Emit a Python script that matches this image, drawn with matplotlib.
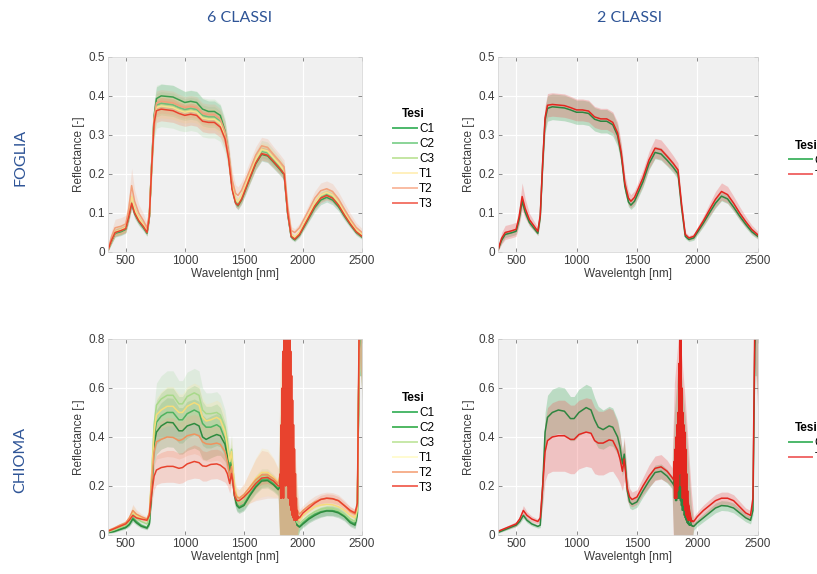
import numpy as np
import matplotlib
matplotlib.use("Agg")
import matplotlib.pyplot as plt
from matplotlib.lines import Line2D
from matplotlib.ticker import FuncFormatter

plt.rcParams['font.family'] = ['Liberation Sans', 'DejaVu Sans']

# ---------------- FOGLIA (leaf) ----------------
wl_leaf = [350, 380, 410, 460, 500, 525, 550, 575, 610, 650, 680, 700, 720, 740, 760,
           800, 900, 950, 1000, 1050, 1100, 1150, 1200, 1250, 1300, 1340, 1370, 1400,
           1430, 1450, 1480, 1550, 1600, 1650, 1700, 1750, 1800, 1840, 1870, 1900, 1930,
           1970, 2050, 2100, 2150, 2200, 2250, 2300, 2350, 2400, 2450, 2500]

leaf_c1 = [0.005, 0.028, 0.048, 0.052, 0.058, 0.088, 0.125, 0.098, 0.078, 0.062, 0.048, 0.09, 0.23, 0.35, 0.393,
           0.40, 0.397, 0.39, 0.383, 0.386, 0.383, 0.366, 0.36, 0.36, 0.35, 0.31, 0.25, 0.165,
           0.125, 0.118, 0.133, 0.188, 0.226, 0.25, 0.246, 0.23, 0.213, 0.198, 0.098, 0.038, 0.031,
           0.043, 0.087, 0.114, 0.133, 0.14, 0.133, 0.116, 0.092, 0.07, 0.05, 0.038]
leaf_c2 = [0.005, 0.03, 0.05, 0.054, 0.06, 0.092, 0.132, 0.104, 0.082, 0.066, 0.05, 0.092, 0.226, 0.34, 0.376,
           0.381, 0.377, 0.37, 0.365, 0.368, 0.365, 0.35, 0.346, 0.346, 0.335, 0.3, 0.245, 0.165,
           0.128, 0.123, 0.138, 0.194, 0.233, 0.258, 0.254, 0.237, 0.22, 0.204, 0.102, 0.041, 0.034,
           0.047, 0.092, 0.121, 0.141, 0.148, 0.141, 0.123, 0.097, 0.074, 0.053, 0.041]
leaf_c3 = [0.005, 0.031, 0.051, 0.056, 0.062, 0.095, 0.138, 0.108, 0.085, 0.068, 0.052, 0.094, 0.224, 0.336, 0.372,
           0.376, 0.372, 0.365, 0.36, 0.363, 0.36, 0.345, 0.342, 0.342, 0.331, 0.298, 0.245, 0.168,
           0.132, 0.127, 0.142, 0.197, 0.236, 0.261, 0.257, 0.24, 0.223, 0.207, 0.105, 0.043, 0.036,
           0.049, 0.095, 0.124, 0.144, 0.151, 0.144, 0.126, 0.1, 0.076, 0.055, 0.043]
leaf_t1 = [0.005, 0.032, 0.052, 0.057, 0.063, 0.097, 0.142, 0.11, 0.087, 0.07, 0.054, 0.095, 0.222, 0.334, 0.37,
           0.374, 0.37, 0.363, 0.358, 0.361, 0.358, 0.343, 0.34, 0.34, 0.329, 0.296, 0.244, 0.17,
           0.134, 0.129, 0.144, 0.199, 0.238, 0.263, 0.259, 0.242, 0.225, 0.209, 0.107, 0.045, 0.038,
           0.051, 0.097, 0.126, 0.146, 0.153, 0.146, 0.128, 0.102, 0.078, 0.057, 0.045]
leaf_t2 = [0.006, 0.04, 0.062, 0.066, 0.072, 0.11, 0.17, 0.13, 0.1, 0.08, 0.062, 0.1, 0.23, 0.345, 0.382,
           0.386, 0.382, 0.375, 0.37, 0.373, 0.37, 0.355, 0.352, 0.352, 0.34, 0.308, 0.258, 0.185,
           0.15, 0.145, 0.158, 0.21, 0.248, 0.272, 0.268, 0.25, 0.233, 0.218, 0.118, 0.055, 0.05,
           0.062, 0.108, 0.138, 0.157, 0.162, 0.155, 0.136, 0.11, 0.085, 0.063, 0.05]
leaf_t3 = [0.005, 0.03, 0.05, 0.055, 0.06, 0.09, 0.125, 0.10, 0.08, 0.065, 0.05, 0.09, 0.22, 0.33, 0.362,
           0.366, 0.362, 0.355, 0.35, 0.353, 0.35, 0.335, 0.332, 0.332, 0.32, 0.29, 0.24, 0.16,
           0.125, 0.12, 0.135, 0.19, 0.228, 0.252, 0.248, 0.232, 0.215, 0.2, 0.1, 0.04, 0.033,
           0.045, 0.09, 0.118, 0.138, 0.145, 0.138, 0.12, 0.095, 0.072, 0.052, 0.04]

leaf_sd = [0.003, 0.008, 0.01, 0.01, 0.01, 0.012, 0.015, 0.012, 0.01, 0.009, 0.008, 0.012, 0.025, 0.03, 0.03,
           0.03, 0.03, 0.029, 0.028, 0.028, 0.028, 0.027, 0.027, 0.027, 0.026, 0.025, 0.02, 0.015,
           0.01, 0.01, 0.011, 0.014, 0.016, 0.017, 0.017, 0.016, 0.015, 0.014, 0.01, 0.006, 0.005,
           0.006, 0.009, 0.011, 0.012, 0.012, 0.012, 0.011, 0.01, 0.008, 0.007, 0.006]
leaf_c3_sd = [0.003, 0.008, 0.01, 0.01, 0.01, 0.012, 0.015, 0.012, 0.01, 0.009, 0.008, 0.015, 0.04, 0.05, 0.055,
              0.055, 0.055, 0.054, 0.052, 0.052, 0.052, 0.05, 0.05, 0.05, 0.048, 0.045, 0.035, 0.022,
              0.013, 0.012, 0.014, 0.02, 0.023, 0.025, 0.025, 0.023, 0.021, 0.02, 0.013, 0.007, 0.006,
              0.007, 0.011, 0.013, 0.014, 0.014, 0.014, 0.013, 0.012, 0.01, 0.008, 0.007]
leaf_t2_sd = [0.004, 0.015, 0.022, 0.022, 0.022, 0.03, 0.045, 0.03, 0.022, 0.018, 0.012, 0.015, 0.025, 0.03, 0.03,
              0.03, 0.03, 0.029, 0.028, 0.028, 0.028, 0.027, 0.027, 0.027, 0.027, 0.027, 0.025, 0.025,
              0.022, 0.022, 0.022, 0.022, 0.022, 0.022, 0.022, 0.02, 0.019, 0.018, 0.014, 0.01, 0.01,
              0.011, 0.015, 0.018, 0.02, 0.02, 0.02, 0.018, 0.016, 0.014, 0.012, 0.01]

leaf2_c = [0.005, 0.03, 0.045, 0.049, 0.053, 0.083, 0.13, 0.102, 0.076, 0.06, 0.048, 0.09, 0.225, 0.338, 0.368,
           0.372, 0.369, 0.364, 0.358, 0.358, 0.355, 0.34, 0.335, 0.335, 0.326, 0.298, 0.248, 0.168,
           0.128, 0.12, 0.13, 0.18, 0.226, 0.255, 0.251, 0.235, 0.217, 0.2, 0.112, 0.04, 0.032,
           0.036, 0.074, 0.1, 0.125, 0.143, 0.136, 0.115, 0.092, 0.071, 0.052, 0.04]
leaf2_t = [0.005, 0.035, 0.05, 0.054, 0.058, 0.09, 0.142, 0.112, 0.083, 0.066, 0.053, 0.095, 0.23, 0.345, 0.376,
           0.378, 0.375, 0.37, 0.364, 0.364, 0.361, 0.346, 0.341, 0.341, 0.332, 0.305, 0.255, 0.176,
           0.138, 0.13, 0.14, 0.19, 0.236, 0.266, 0.262, 0.245, 0.227, 0.21, 0.12, 0.045, 0.036,
           0.04, 0.08, 0.108, 0.135, 0.155, 0.147, 0.125, 0.1, 0.078, 0.058, 0.044]
leaf2_c_sd = [0.003, 0.007, 0.008, 0.008, 0.008, 0.01, 0.012, 0.01, 0.008, 0.007, 0.006, 0.01, 0.025, 0.032, 0.033,
              0.033, 0.033, 0.032, 0.031, 0.031, 0.031, 0.03, 0.03, 0.03, 0.029, 0.027, 0.022, 0.016,
              0.012, 0.011, 0.012, 0.014, 0.015, 0.016, 0.016, 0.015, 0.014, 0.013, 0.009, 0.006, 0.005,
              0.006, 0.009, 0.011, 0.012, 0.012, 0.012, 0.011, 0.01, 0.009, 0.008, 0.007]
leaf2_t_sd = [0.003, 0.015, 0.018, 0.018, 0.018, 0.022, 0.035, 0.025, 0.016, 0.012, 0.01, 0.012, 0.025, 0.03, 0.03,
              0.03, 0.03, 0.029, 0.028, 0.028, 0.028, 0.027, 0.027, 0.027, 0.027, 0.027, 0.025, 0.022,
              0.018, 0.017, 0.017, 0.02, 0.022, 0.025, 0.025, 0.023, 0.02, 0.018, 0.012, 0.007, 0.006,
              0.007, 0.012, 0.016, 0.02, 0.022, 0.021, 0.018, 0.016, 0.013, 0.011, 0.009]

# ---------------- CHIOMA (canopy) ----------------
wl_canopy = [350, 400, 450, 500, 530, 560, 590, 630, 680, 700, 720, 740, 760, 800, 850,
             900, 950, 980, 1020, 1080, 1120, 1150, 1180, 1220, 1270, 1300, 1340, 1360, 1380, 1395,
             1405, 1420, 1440, 1460, 1500, 1550, 1600, 1650, 1700, 1750, 1790, 1810, 1850, 1900, 1950,
             1970, 2000, 2050, 2100, 2150, 2200, 2250, 2300, 2350, 2400, 2440, 2460, 2475, 2490, 2500]

canopy_c1 = [0.01, 0.015, 0.025, 0.033, 0.045, 0.07, 0.055, 0.04, 0.03, 0.05, 0.2, 0.4, 0.46, 0.485, 0.5,
             0.5, 0.47, 0.47, 0.495, 0.51, 0.5, 0.455, 0.44, 0.44, 0.45, 0.44, 0.39, 0.34, 0.27, 0.31,
             0.25, 0.17, 0.125, 0.115, 0.125, 0.165, 0.2, 0.225, 0.228, 0.21, 0.19, 0.2, 0.3, 0.15, 0.04,
             0.035, 0.05, 0.07, 0.085, 0.095, 0.1, 0.1, 0.095, 0.08, 0.055, 0.045, 0.09, 0.75, 0.95, 0.95]
canopy_c2 = [0.01, 0.014, 0.022, 0.03, 0.042, 0.065, 0.05, 0.036, 0.028, 0.045, 0.18, 0.37, 0.42, 0.445, 0.46,
             0.458, 0.425, 0.425, 0.445, 0.455, 0.445, 0.4, 0.39, 0.4, 0.41, 0.405, 0.37, 0.32, 0.25, 0.29,
             0.23, 0.16, 0.12, 0.11, 0.12, 0.16, 0.195, 0.22, 0.222, 0.205, 0.185, 0.2, 0.3, 0.15, 0.04,
             0.032, 0.045, 0.065, 0.08, 0.092, 0.098, 0.097, 0.09, 0.075, 0.05, 0.04, 0.085, 0.75, 0.95, 0.95]
canopy_c3 = [0.012, 0.02, 0.03, 0.04, 0.055, 0.085, 0.07, 0.055, 0.045, 0.07, 0.25, 0.45, 0.53, 0.555, 0.57,
             0.57, 0.535, 0.535, 0.565, 0.58, 0.57, 0.51, 0.495, 0.495, 0.5, 0.49, 0.44, 0.38, 0.3, 0.35,
             0.28, 0.19, 0.14, 0.13, 0.14, 0.18, 0.215, 0.24, 0.24, 0.22, 0.2, 0.22, 0.3, 0.15, 0.05,
             0.045, 0.06, 0.08, 0.095, 0.105, 0.11, 0.108, 0.1, 0.085, 0.065, 0.055, 0.1, 0.75, 0.95, 0.95]
canopy_t1 = [0.016, 0.025, 0.035, 0.045, 0.065, 0.095, 0.08, 0.068, 0.06, 0.09, 0.25, 0.42, 0.49, 0.51, 0.525,
             0.525, 0.5, 0.5, 0.525, 0.54, 0.53, 0.48, 0.465, 0.47, 0.48, 0.47, 0.42, 0.36, 0.3, 0.34,
             0.28, 0.2, 0.16, 0.15, 0.16, 0.195, 0.23, 0.255, 0.255, 0.235, 0.215, 0.25, 0.35, 0.2, 0.07,
             0.06, 0.08, 0.1, 0.115, 0.122, 0.125, 0.123, 0.115, 0.1, 0.08, 0.07, 0.11, 0.78, 0.95, 0.95]
canopy_t2 = [0.018, 0.028, 0.04, 0.05, 0.07, 0.1, 0.085, 0.075, 0.065, 0.09, 0.22, 0.34, 0.38, 0.39, 0.4,
             0.398, 0.385, 0.39, 0.405, 0.412, 0.405, 0.38, 0.372, 0.37, 0.375, 0.37, 0.34, 0.3, 0.24, 0.28,
             0.24, 0.18, 0.155, 0.15, 0.165, 0.195, 0.225, 0.245, 0.245, 0.23, 0.21, 0.25, 0.4, 0.25, 0.1,
             0.085, 0.1, 0.12, 0.135, 0.145, 0.15, 0.148, 0.14, 0.12, 0.095, 0.085, 0.12, 0.8, 0.95, 0.95]
canopy_t3 = [0.015, 0.025, 0.035, 0.045, 0.06, 0.08, 0.07, 0.065, 0.06, 0.08, 0.17, 0.24, 0.265, 0.275, 0.28,
             0.28, 0.272, 0.275, 0.29, 0.3, 0.295, 0.282, 0.28, 0.288, 0.29, 0.285, 0.27, 0.25, 0.21, 0.25,
             0.22, 0.16, 0.14, 0.14, 0.155, 0.18, 0.21, 0.232, 0.235, 0.22, 0.2, 0.2, 0.4, 0.2, 0.08,
             0.07, 0.09, 0.11, 0.13, 0.145, 0.15, 0.148, 0.14, 0.12, 0.1, 0.09, 0.13, 0.85, 0.95, 0.95]

canopy_green_sd = [0.003, 0.004, 0.005, 0.006, 0.008, 0.012, 0.01, 0.008, 0.007, 0.01, 0.05, 0.08, 0.09, 0.095, 0.1,
                   0.1, 0.095, 0.095, 0.1, 0.1, 0.1, 0.09, 0.085, 0.085, 0.085, 0.08, 0.07, 0.06, 0.05, 0.06,
                   0.05, 0.035, 0.025, 0.022, 0.022, 0.025, 0.028, 0.03, 0.03, 0.028, 0.026, 0.3, 0.45, 0.35, 0.06,
                   0.015, 0.015, 0.016, 0.018, 0.02, 0.02, 0.02, 0.02, 0.018, 0.016, 0.015, 0.02, 0.1, 0.3, 0.4]
canopy_warm_sd = [0.004, 0.005, 0.007, 0.008, 0.012, 0.025, 0.018, 0.012, 0.01, 0.012, 0.04, 0.06, 0.07, 0.075, 0.08,
                  0.08, 0.075, 0.075, 0.08, 0.08, 0.08, 0.075, 0.07, 0.07, 0.07, 0.07, 0.065, 0.06, 0.05, 0.06,
                  0.05, 0.04, 0.035, 0.035, 0.045, 0.065, 0.085, 0.1, 0.095, 0.08, 0.06, 0.45, 0.45, 0.3, 0.12,
                  0.02, 0.02, 0.022, 0.024, 0.025, 0.025, 0.025, 0.024, 0.022, 0.02, 0.02, 0.025, 0.1, 0.3, 0.4]
canopy_red_sd = [0.003, 0.004, 0.005, 0.006, 0.008, 0.012, 0.01, 0.008, 0.007, 0.01, 0.04, 0.055, 0.06, 0.062, 0.065,
                 0.065, 0.062, 0.062, 0.065, 0.068, 0.065, 0.062, 0.06, 0.06, 0.06, 0.06, 0.055, 0.05, 0.04, 0.045,
                 0.04, 0.03, 0.02, 0.018, 0.018, 0.02, 0.022, 0.025, 0.025, 0.022, 0.02, 0.3, 0.45, 0.3, 0.08,
                 0.015, 0.015, 0.015, 0.016, 0.017, 0.018, 0.018, 0.017, 0.016, 0.015, 0.015, 0.02, 0.1, 0.3, 0.4]

canopy2_c = [0.01, 0.02, 0.03, 0.04, 0.055, 0.08, 0.06, 0.045, 0.035, 0.04, 0.2, 0.42, 0.48, 0.5, 0.51,
             0.505, 0.475, 0.475, 0.5, 0.52, 0.51, 0.47, 0.44, 0.43, 0.445, 0.44, 0.4, 0.36, 0.29, 0.33,
             0.28, 0.18, 0.135, 0.125, 0.135, 0.18, 0.22, 0.255, 0.26, 0.24, 0.215, 0.2, 0.3, 0.18, 0.04,
             0.035, 0.05, 0.07, 0.09, 0.11, 0.12, 0.118, 0.11, 0.09, 0.07, 0.06, 0.1, 0.75, 0.95, 0.95]
canopy2_t = [0.015, 0.025, 0.035, 0.045, 0.065, 0.1, 0.08, 0.065, 0.055, 0.07, 0.2, 0.34, 0.385, 0.4, 0.405,
             0.405, 0.39, 0.39, 0.41, 0.42, 0.415, 0.385, 0.375, 0.375, 0.388, 0.385, 0.345, 0.31, 0.26, 0.31,
             0.26, 0.19, 0.155, 0.145, 0.155, 0.2, 0.24, 0.272, 0.278, 0.26, 0.235, 0.22, 0.4, 0.2, 0.06,
             0.055, 0.075, 0.1, 0.12, 0.14, 0.15, 0.15, 0.14, 0.115, 0.09, 0.08, 0.15, 0.85, 0.95, 0.95]
canopy2_c_sd = [0.003, 0.004, 0.005, 0.006, 0.008, 0.012, 0.01, 0.008, 0.007, 0.01, 0.05, 0.08, 0.09, 0.095, 0.095,
                0.095, 0.09, 0.09, 0.095, 0.095, 0.095, 0.09, 0.085, 0.08, 0.08, 0.078, 0.07, 0.06, 0.05, 0.055,
                0.05, 0.035, 0.025, 0.022, 0.022, 0.025, 0.028, 0.03, 0.03, 0.028, 0.026, 0.3, 0.45, 0.3, 0.08,
                0.015, 0.015, 0.016, 0.018, 0.02, 0.02, 0.02, 0.02, 0.018, 0.016, 0.015, 0.02, 0.1, 0.3, 0.4]
canopy2_t_sd = [0.004, 0.006, 0.008, 0.01, 0.012, 0.02, 0.015, 0.012, 0.01, 0.015, 0.08, 0.12, 0.135, 0.14, 0.145,
                0.145, 0.14, 0.14, 0.14, 0.14, 0.14, 0.135, 0.13, 0.13, 0.13, 0.125, 0.115, 0.1, 0.08, 0.09,
                0.07, 0.05, 0.035, 0.03, 0.03, 0.035, 0.045, 0.05, 0.05, 0.045, 0.04, 0.4, 0.45, 0.35, 0.12,
                0.02, 0.02, 0.022, 0.024, 0.025, 0.025, 0.025, 0.024, 0.022, 0.02, 0.02, 0.025, 0.15, 0.35, 0.45]

# noisy water-absorption window (1804-1960 nm, 4 nm steps)
wl_noise = [1804, 1808, 1812, 1816, 1820, 1824, 1828, 1832, 1836, 1840,
            1844, 1848, 1852, 1856, 1860, 1864, 1868, 1872, 1876, 1880,
            1884, 1888, 1892, 1896, 1900, 1904, 1908, 1912, 1916, 1920,
            1924, 1928, 1932, 1936, 1940, 1944, 1948, 1952, 1956, 1960]
canopy_t3_noise = [0.2, 0.25, 0.15, 0.45, 0.15, 0.6, 0.2, 0.75, 0.15, 0.9,
                   0.25, 0.95, 0.2, 0.95, 0.3, 0.95, 0.2, 0.95, 0.15, 0.9,
                   0.2, 0.85, 0.12, 0.75, 0.1, 0.65, 0.08, 0.55, 0.07, 0.45,
                   0.06, 0.35, 0.06, 0.25, 0.06, 0.15, 0.06, 0.1, 0.065, 0.07]
canopy2_t_noise = [0.23, 0.3, 0.15, 0.35, 0.15, 0.4, 0.15, 0.45, 0.18, 0.5,
                   0.2, 0.7, 0.25, 0.95, 0.3, 0.95, 0.2, 0.6, 0.15, 0.5,
                   0.15, 0.45, 0.12, 0.42, 0.1, 0.35, 0.08, 0.25, 0.07, 0.18,
                   0.06, 0.12, 0.06, 0.09, 0.06, 0.07, 0.055, 0.06, 0.055, 0.055]
canopy2_c_noise = [0.21, 0.25, 0.15, 0.3, 0.14, 0.33, 0.14, 0.35, 0.15, 0.38,
                   0.15, 0.4, 0.15, 0.35, 0.14, 0.32, 0.12, 0.3, 0.1, 0.28,
                   0.1, 0.25, 0.08, 0.2, 0.07, 0.15, 0.06, 0.1, 0.05, 0.07,
                   0.045, 0.055, 0.04, 0.045, 0.04, 0.042, 0.04, 0.038, 0.037, 0.036]

labels6 = ['C1', 'C2', 'C3', 'T1', 'T2', 'T3']
labels2 = ['C', 'T']

# colours
leaf6_line = ['#3a9d4f', '#6cc07a', '#b9dd8c', '#f8e08e', '#f2a07a', '#e8432e']
leaf6_band = ['#2ca25f', '#74c476', '#a1d99b', '#fee391', '#f4a582', '#fb6a4a']
leaf6_leg = ['#4cb86a', '#8ad497', '#c4e6a2', '#fff0bd', '#f9bca2', '#f3776a']
can6_line = ['#4fb360', '#2e8b3e', '#a8d98a', '#f5dc7a', '#f0935e', '#e8432e']
can6_band = ['#41ab5d', '#2e8b3e', '#a1d99b', '#fee391', '#f4a582', '#fb6a4a']
can6_leg = ['#4cb86a', '#4fb862', '#c7e8a8', '#fffbd0', '#f6b08d', '#f26b5e']
two_line = ['#2e8540', '#e3261f']
two_band = ['#41ab5d', '#ef5a5a']
two_leg = ['#4cb86a', '#f06a6a']

fig = plt.figure(figsize=(8.17, 5.74), dpi=100)
fig.patch.set_facecolor('white')

ax_a = fig.add_axes([0.1322, 0.561, 0.311, 0.340])
ax_b = fig.add_axes([0.6095, 0.561, 0.318, 0.340])
ax_c = fig.add_axes([0.1322, 0.068, 0.311, 0.3415])
ax_d = fig.add_axes([0.6095, 0.068, 0.318, 0.3415])


def style(ax, ymax, ystep):
    ax.set_facecolor('#f0f0f0')
    ax.set_xlim(350, 2500)
    ax.set_ylim(0, ymax)
    ax.set_xticks([500, 1000, 1500, 2000, 2500])
    ax.set_yticks(np.arange(0, ymax + 1e-9, ystep))
    ax.yaxis.set_major_formatter(FuncFormatter(lambda v, p: '%g' % round(v, 2)))
    ax.grid(True, color='white', lw=0.9)
    ax.set_axisbelow(True)
    for s in ax.spines.values():
        s.set_color('#d8d8d8')
        s.set_linewidth(0.6)
    ax.tick_params(direction='in', length=3, width=0.6, color='#777777',
                   labelsize=8.5, labelcolor='#3c3c3c', top=True, right=True, pad=2)
    ax.set_xlabel('Wavelentgh [nm]', fontsize=8.5, color='#3c3c3c', labelpad=1)
    ax.set_ylabel('Reflectance [-]', fontsize=8.5, color='#3c3c3c', labelpad=3)


def bands(ax, wl, means, sds, line_cols, band_cols, alpha=0.22, lw=1.1):
    wl = np.array(wl)
    for m, s, bc in zip(means, sds, band_cols):
        m = np.array(m)
        s = np.array(s)
        ax.fill_between(wl, m - s, m + s, color=bc, alpha=alpha, lw=0)
    for m, lc in zip(means, line_cols):
        ax.plot(wl, m, color=lc, lw=lw)


def legend(ax, labels, cols, y_top, x_left):
    handles = [Line2D([0], [0], color=c, lw=1.4) for c in cols]
    ax.legend(handles, labels, title='Tesi', loc='upper left',
              bbox_to_anchor=(x_left, y_top), bbox_transform=fig.transFigure,
              frameon=False, fontsize=8.5, borderpad=0, labelspacing=0.25,
              handlelength=2.0, handletextpad=0.2,
              title_fontproperties={'weight': 'bold', 'size': 8.5})


# Panel A: FOGLIA, 6 classes
style(ax_a, 0.5, 0.1)
bands(ax_a, wl_leaf,
      [leaf_c1, leaf_c2, leaf_c3, leaf_t1, leaf_t2, leaf_t3],
      [leaf_sd, leaf_sd, leaf_c3_sd, leaf_sd, leaf_t2_sd, leaf_sd],
      leaf6_line, leaf6_band)
legend(ax_a, labels6, leaf6_leg, 0.822, 0.4737)

# Panel B: FOGLIA, 2 classes
style(ax_b, 0.5, 0.1)
bands(ax_b, wl_leaf, [leaf2_c, leaf2_t], [leaf2_c_sd, leaf2_t_sd],
      two_line, two_band, alpha=0.3)
legend(ax_b, labels2, two_leg, 0.767, 0.958)

# Panel C: CHIOMA, 6 classes
style(ax_c, 0.8, 0.2)
bands(ax_c, wl_canopy,
      [canopy_c1, canopy_c2, canopy_c3, canopy_t1, canopy_t2, canopy_t3],
      [canopy_green_sd, canopy_green_sd, canopy_green_sd, canopy_warm_sd, canopy_warm_sd, canopy_red_sd],
      can6_line, can6_band)
ax_c.plot(wl_noise, canopy_t3_noise, color=can6_line[5], lw=1.1)
legend(ax_c, labels6, can6_leg, 0.3275, 0.4737)

# Panel D: CHIOMA, 2 classes
style(ax_d, 0.8, 0.2)
bands(ax_d, wl_canopy, [canopy2_c, canopy2_t], [canopy2_c_sd, canopy2_t_sd],
      two_line, two_band, alpha=0.3)
ax_d.plot(wl_noise, canopy2_c_noise, color=two_line[0], lw=1.0)
ax_d.plot(wl_noise, canopy2_t_noise, color=two_line[1], lw=1.1)
legend(ax_d, labels2, two_leg, 0.2753, 0.958)

# column / row headings
head = dict(color='#2f5597', fontsize=11.5, family=['Lato', 'DejaVu Sans'])
fig.text(240 / 817, 1 - 18 / 574, '6 CLASSI', ha='center', va='center', **head)
fig.text(630 / 817, 1 - 18 / 574, '2 CLASSI', ha='center', va='center', **head)
fig.text(20 / 817, 1 - 157 / 574, 'FOGLIA', ha='center', va='center', rotation=90, **head)
fig.text(20 / 817, 1 - 460 / 574, 'CHIOMA', ha='center', va='center', rotation=90, **head)

fig.savefig('out.png', dpi=100)
